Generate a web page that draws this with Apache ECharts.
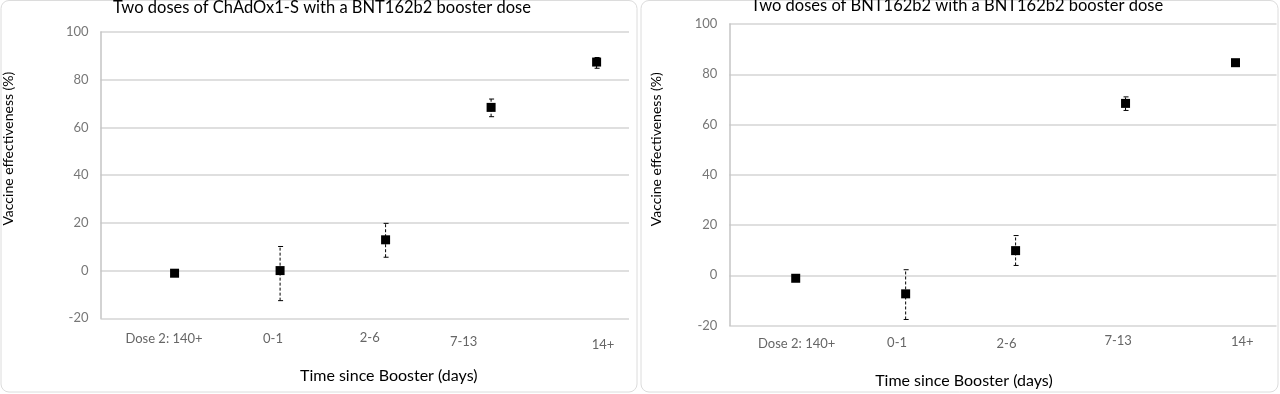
<!DOCTYPE html>
<html>
<head>
<meta charset="utf-8">
<script src="https://cdn.jsdelivr.net/npm/echarts@6/dist/echarts.min.js"></script>
<style>
html,body{margin:0;padding:0;background:#fff;}
#chart{width:1280px;height:394px;}
</style>
</head>
<body>
<div id="chart"></div>
<script>
// ---- data ----
const categories = ['Dose 2: 140+', '0-1', '2-6', '7-13', '14+'];
const yTicks = [-20, 0, 20, 40, 60, 80, 100];

const titleA = 'Two doses of ChAdOx1-S with a BNT162b2 booster dose';
const veA    = [-1.1, 0, 12.9, 68.4, 87.4];
const lowA   = [null, -12.6, 5.6, 64.5, 84.8];
const highA  = [null, 10.1, 19.8, 71.9, 89.3];

const titleB = 'Two doses of BNT162b2 with a BNT162b2 booster dose';
const veB    = [-1.2, -7.4, 9.8, 68.4, 84.6];
const lowB   = [null, -17.6, 3.9, 65.6, 83.6];
const highB  = [null, 2.2, 15.8, 71.0, 85.6];

// ---- layout (not data) ----
const FONT = 'Lato, "Liberation Sans", sans-serif';
const labelPosA = [-0.10, 0.933, 1.85, 2.74, 4.06];
const labelPosB = [0.009, 0.922, 1.917, 2.933, 4.061];
const labelPadA = [1, 1, 0, 4, 7];
const labelPadB = [3, 2, 3, 0, 1];

function richFor(pads) {
  const r = {};
  pads.forEach((p, i) => { r['p' + i] = { padding: [p, 0, 0, 0], color: '#666', fontSize: 13, fontFamily: FONT }; });
  return r;
}

function nearestIndex(pos, v) {
  let best = 0;
  pos.forEach((p, i) => { if (Math.abs(p - v) < Math.abs(pos[best] - v)) best = i; });
  return best;
}

function xAxis(gridIndex, min, max, pos, pads, margin, nameGap, namePad) {
  return {
    type: 'value', gridIndex, min, max,
    axisLine: { show: false, onZero: false }, axisTick: { show: false }, splitLine: { show: false },
    axisLabel: {
      customValues: pos, margin, color: '#666', fontSize: 13, fontFamily: FONT,
      showMinLabel: true, showMaxLabel: true,
      formatter: (v) => { const i = nearestIndex(pos, v); return '{p' + i + '|' + categories[i] + '}'; },
      rich: richFor(pads)
    },
    name: 'Time since Booster (days)', nameLocation: 'middle', nameGap,
    nameTextStyle: { color: '#000', fontSize: 16, fontFamily: FONT, padding: namePad }
  };
}

function yAxis(gridIndex, nameGap, namePad) {
  return {
    type: 'value', gridIndex, position: 'left', min: yTicks[0], max: yTicks[yTicks.length - 1], interval: 20,
    axisLine: { show: true, onZero: false, lineStyle: { color: '#c4c4c4', width: 1.5 } },
    axisTick: { show: false },
    splitLine: { show: true, lineStyle: { color: '#d4d4d4', width: 1.5 } },
    axisLabel: { color: '#777', fontSize: 13, fontFamily: FONT, margin: 12 },
    name: 'Vaccine effectiveness (%)', nameLocation: 'middle', nameGap,
    nameTextStyle: { color: '#000', fontSize: 14, fontFamily: FONT, padding: namePad }
  };
}

function errSeries(idx, low, high) {
  const data = [];
  low.forEach((l, i) => { if (l !== null) data.push([i, l, high[i]]); });
  return {
    type: 'custom', xAxisIndex: idx, yAxisIndex: idx, z: 2,
    data,
    renderItem: (params, api) => {
      const x = api.value(0);
      const p1 = api.coord([x, api.value(1)]);
      const p2 = api.coord([x, api.value(2)]);
      const st = { stroke: '#000', lineWidth: 1, lineDash: [3, 2] };
      return {
        type: 'group',
        children: [
          { type: 'line', shape: { x1: p1[0], y1: p1[1], x2: p2[0], y2: p2[1] }, style: st },
          { type: 'line', shape: { x1: p1[0] - 2, y1: p1[1], x2: p1[0] + 3, y2: p1[1] }, style: { stroke: '#000', lineWidth: 1 } },
          { type: 'line', shape: { x1: p2[0] - 2, y1: p2[1], x2: p2[0] + 3, y2: p2[1] }, style: { stroke: '#000', lineWidth: 1 } }
        ]
      };
    }
  };
}

function pointSeries(idx, ve) {
  return {
    type: 'scatter', xAxisIndex: idx, yAxisIndex: idx, z: 3,
    symbol: 'rect', symbolSize: 9,
    itemStyle: { color: '#000', opacity: 1 },
    data: ve.map((v, i) => [i, v])
  };
}

const chart = echarts.init(document.getElementById('chart'));
chart.setOption({
  animation: false,
  backgroundColor: '#fff',
  title: [
    { text: titleA, left: 322, top: -1, textAlign: 'center', padding: 0,
      textStyle: { color: '#000', fontSize: 16.5, fontWeight: 'normal', fontFamily: FONT } },
    { text: titleB, left: 957, top: -3, textAlign: 'center', padding: 0,
      textStyle: { color: '#000', fontSize: 16.5, fontWeight: 'normal', fontFamily: FONT } }
  ],
  graphic: [
    { type: 'rect', shape: { x: 1, y: 0.5, width: 636, height: 391.5, r: 8 }, style: { fill: 'none', stroke: '#dcdcdc', lineWidth: 1 }, z: -10 },
    { type: 'rect', shape: { x: 641, y: 0.5, width: 637, height: 391.5, r: 8 }, style: { fill: 'none', stroke: '#dcdcdc', lineWidth: 1 }, z: -10 }
  ],
  grid: [
    { left: 99, right: 651, top: 32, bottom: 75.7 },
    { left: 729.3, right: 3.5, top: 24, bottom: 63 }
  ],
  xAxis: [
    xAxis(0, -0.702, 4.307, labelPosA, labelPadA, 13, 50, [0, 0, 0, 48]),
    xAxis(1, -0.604, 4.373, labelPosB, labelPadB, 9.2, 47.5, [0, 78, 0, 0])
  ],
  yAxis: [
    yAxis(0, 85.5, [0, 0, 0, 53]),
    yAxis(1, 66, [0, 0, 0, 51])
  ],
  series: [
    errSeries(0, lowA, highA), pointSeries(0, veA),
    errSeries(1, lowB, highB), pointSeries(1, veB)
  ]
});
</script>
</body>
</html>
